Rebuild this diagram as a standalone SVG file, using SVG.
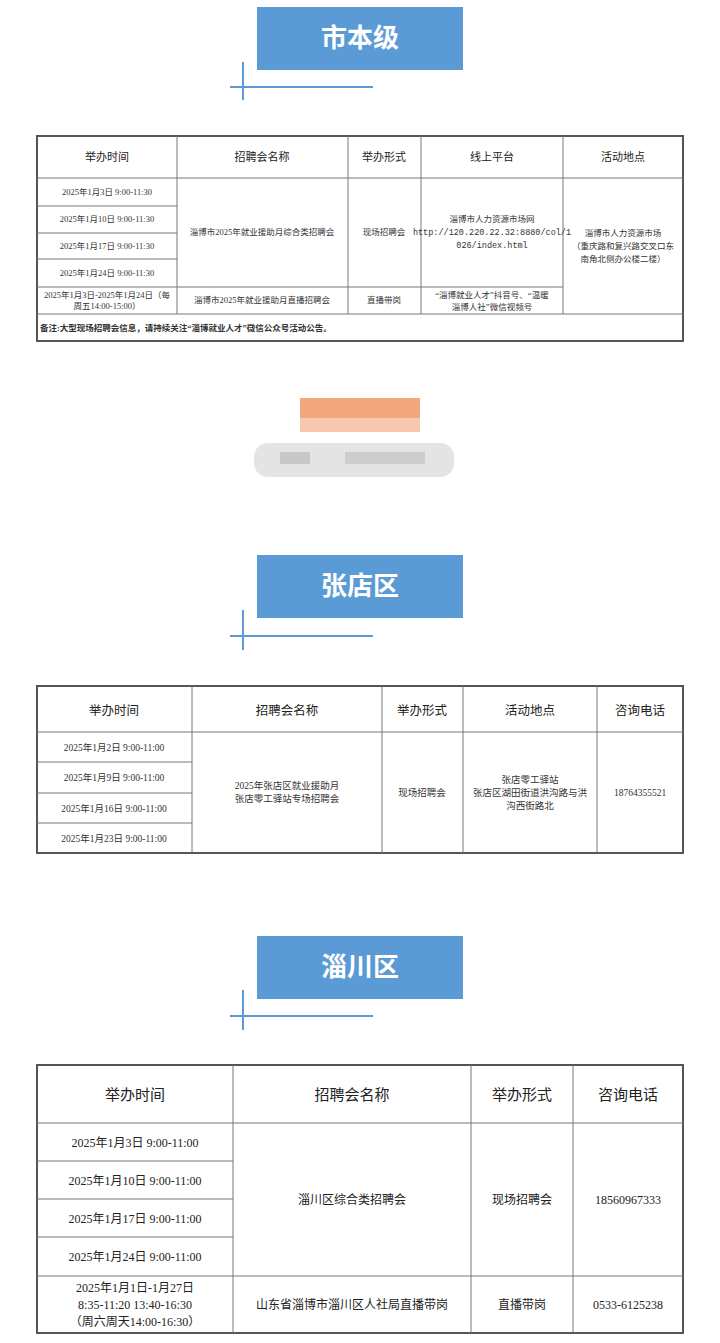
<svg xmlns="http://www.w3.org/2000/svg" width="720" height="1343" viewBox="0 0 720 1343" xml:space="preserve">
<style>
.bg{fill:#fff}
.ttl{fill:#5b9bd5}
.tt{font-family:"Noto Sans CJK SC",sans-serif;font-weight:bold;font-size:26px;fill:#fff;text-anchor:middle}
.deco{stroke:#5b9bd5;stroke-width:2;fill:none}
.ol{fill:none;stroke:#555;stroke-width:2}
.ln{stroke:#777;stroke-width:1;fill:none}
.h1{font-family:"Noto Sans CJK SC",sans-serif;font-size:11px;fill:#222;text-anchor:middle}
.d1{font-family:"Liberation Serif","Noto Sans CJK SC",serif;font-size:8.5px;fill:#333;text-anchor:middle}
.m1{font-family:"Liberation Mono",monospace;font-size:8.5px;fill:#333;text-anchor:middle}
.h2{font-family:"Noto Sans CJK SC",sans-serif;font-size:12.5px;fill:#222;text-anchor:middle}
.d2{font-family:"Liberation Serif","Noto Sans CJK SC",serif;font-size:9.5px;fill:#333;text-anchor:middle}
.h3{font-family:"Noto Sans CJK SC",sans-serif;font-size:15px;fill:#222;text-anchor:middle}
.d3{font-family:"Liberation Serif","Noto Sans CJK SC",serif;font-size:12px;fill:#222;text-anchor:middle}
</style>
<rect class="bg" width="720" height="1343"/>
<g id="title1"><rect class="ttl" x="257" y="7" width="206" height="63"/><text class="tt" x="360" y="47">市本级</text>
<path class="deco" d="M243 62V100M230 87H373"/></g>
<g id="table1">
<rect class="ol" x="37" y="136" width="646" height="205"/>
<path class="ln" d="M37 178H683M37 206H177M37 233H177M37 259H177M37 287H563M37 314H683M177 136V314M348 136V314M421 136V314M563 136V314"/>
<text class="h1" x="107" y="161">举办时间</text><text class="h1" x="262" y="161">招聘会名称</text><text class="h1" x="384" y="161">举办形式</text><text class="h1" x="492" y="161">线上平台</text><text class="h1" x="623" y="161">活动地点</text>
<text class="d1" x="107" y="195">2025年1月3日 9:00-11:30</text>
<text class="d1" x="107" y="222">2025年1月10日 9:00-11:30</text>
<text class="d1" x="107" y="249">2025年1月17日 9:00-11:30</text>
<text class="d1" x="107" y="276">2025年1月24日 9:00-11:30</text>
<text class="d1" x="107" y="298">2025年1月3日-2025年1月24日（每</text>
<text class="d1" x="107" y="309">周五14:00-15:00）</text>
<text class="d1" x="262" y="235">淄博市2025年就业援助月综合类招聘会</text>
<text class="d1" x="262" y="303">淄博市2025年就业援助月直播招聘会</text>
<text class="d1" x="384" y="235">现场招聘会</text>
<text class="d1" x="384" y="303">直播带岗</text>
<text class="d1" x="492" y="222">淄博市人力资源市场网</text>
<text class="m1" x="492" y="235">http://120.220.22.32:8880/col/1</text>
<text class="m1" x="492" y="248">026/index.html</text>
<text class="d1" x="492" y="298">“淄博就业人才”抖音号、“温暖</text>
<text class="d1" x="492" y="310">淄博人社”微信视频号</text>
<text class="d1" x="623" y="236">淄博市人力资源市场</text>
<text class="d1" x="623" y="249">（重庆路和复兴路交叉口东</text>
<text class="d1" x="623" y="262">南角北侧办公楼二楼）</text>
<text class="d1" x="40" y="331" style="text-anchor:start;font-weight:bold">备注:大型现场招聘会信息，请持续关注“淄博就业人才”微信公众号活动公告。</text>
</g>
<g id="blurred">
<rect x="300" y="398" width="120" height="34" fill="#f6c9ae"/>
<rect x="300" y="398" width="120" height="20" fill="#f2a77f"/>
<rect x="254" y="443" width="200" height="34" rx="14" fill="#e4e4e4"/>
<rect x="280" y="452" width="30" height="12" fill="#c8c8c8"/><rect x="345" y="452" width="80" height="12" fill="#cdcdcd"/>
</g>
<g id="title2"><rect class="ttl" x="257" y="555" width="206" height="63"/><text class="tt" x="360" y="595">张店区</text>
<path class="deco" d="M243 610V650M230 636H373"/></g>
<g id="table2">
<rect class="ol" x="37" y="686" width="646" height="167"/>
<path class="ln" d="M37 732H683M37 762H192M37 793H192M37 823H192M192 686V853M382 686V853M463 686V853M597 686V853"/>
<text class="h2" x="114" y="715">举办时间</text><text class="h2" x="287" y="715">招聘会名称</text><text class="h2" x="422" y="715">举办形式</text><text class="h2" x="530" y="715">活动地点</text><text class="h2" x="640" y="715">咨询电话</text>
<text class="d2" x="114" y="751">2025年1月2日  9:00-11:00</text>
<text class="d2" x="114" y="781">2025年1月9日  9:00-11:00</text>
<text class="d2" x="114" y="812">2025年1月16日  9:00-11:00</text>
<text class="d2" x="114" y="842">2025年1月23日  9:00-11:00</text>
<text class="d2" x="287" y="789">2025年张店区就业援助月</text>
<text class="d2" x="287" y="802">张店零工驿站专场招聘会</text>
<text class="d2" x="422" y="796">现场招聘会</text>
<text class="d2" x="530" y="783">张店零工驿站</text>
<text class="d2" x="530" y="796">张店区湖田街道洪沟路与洪</text>
<text class="d2" x="530" y="809">沟西街路北</text>
<text class="d2" x="640" y="796">18764355521</text>
</g>
<g id="title3"><rect class="ttl" x="257" y="936" width="206" height="63"/><text class="tt" x="360" y="976">淄川区</text>
<path class="deco" d="M243 990V1030M230 1016H373"/></g>
<g id="table3">
<rect class="ol" x="37" y="1065" width="646" height="268"/>
<path class="ln" d="M37 1123H683M37 1161H233M37 1199H233M37 1237H233M37 1276H683M233 1065V1333M471 1065V1333M573 1065V1333"/>
<text class="h3" x="135" y="1100">举办时间</text><text class="h3" x="352" y="1100">招聘会名称</text><text class="h3" x="522" y="1100">举办形式</text><text class="h3" x="628" y="1100">咨询电话</text>
<text class="d3" x="135" y="1147">2025年1月3日  9:00-11:00</text>
<text class="d3" x="135" y="1185">2025年1月10日  9:00-11:00</text>
<text class="d3" x="135" y="1223">2025年1月17日  9:00-11:00</text>
<text class="d3" x="135" y="1261">2025年1月24日  9:00-11:00</text>
<text class="d3" x="135" y="1292">2025年1月1日-1月27日</text>
<text class="d3" x="135" y="1309">8:35-11:20    13:40-16:30</text>
<text class="d3" x="135" y="1326">（周六周天14:00-16:30）</text>
<text class="d3" x="352" y="1204">淄川区综合类招聘会</text>
<text class="d3" x="352" y="1309">山东省淄博市淄川区人社局直播带岗</text>
<text class="d3" x="522" y="1204">现场招聘会</text>
<text class="d3" x="522" y="1309">直播带岗</text>
<text class="d3" x="628" y="1204">18560967333</text>
<text class="d3" x="628" y="1309">0533-6125238</text>
</g>
</svg>
